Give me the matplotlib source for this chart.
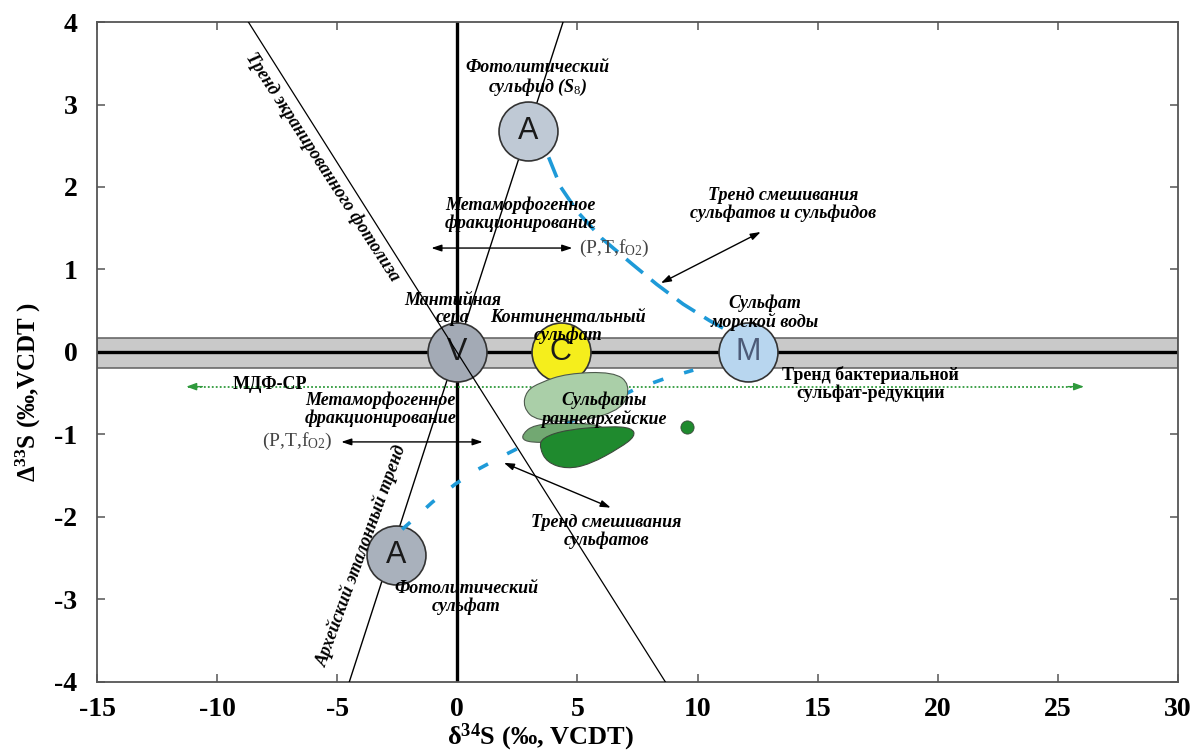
import matplotlib
matplotlib.use("Agg")
import matplotlib.pyplot as plt
from matplotlib.path import Path
from matplotlib.patches import PathPatch

plt.rcParams['font.family'] = ['Liberation Serif', 'DejaVu Serif']
plt.rcParams['mathtext.fontset'] = 'custom'
plt.rcParams['mathtext.rm'] = 'Liberation Serif'
plt.rcParams['mathtext.bf'] = 'Liberation Serif:bold'
plt.rcParams['mathtext.it'] = 'Liberation Serif:bold:italic'
plt.rcParams['axes.unicode_minus'] = False

# ---- end-member sulfur reservoirs ----
member_labels = ["A", "V", "C", "M", "A"]
member_d34 = [2.95, 0.0, 4.3, 12.1, -2.56]
member_D33 = [2.68, 0.0, 0.0, 0.0, -2.46]
member_colors = ["#bfc9d5", "#a3aab5", "#f5ee1c", "#b8d6ef", "#a9b1bc"]
member_text_colors = ["#1a1a1a", "#1a1a1a", "#1a1a1a", "#4d5b78", "#1a1a1a"]

# ---- reference arrays ----
ara_d34 = [-4.5, 4.4]          # Archean reference array
ara_D33 = [-4.0, 4.0]
screened_d34 = [-8.7, 8.66]    # screened photolysis trend
screened_D33 = [4.0, -4.0]
mdf_band = [-0.19, 0.17]       # mass-dependent fractionation field

# ---- mixing trends ----
mix_sulfide_d34 = [3.8, 4.3, 5.0, 6.0, 7.3, 8.3, 9.4, 10.5, 11.3]
mix_sulfide_D33 = [2.36, 2.0, 1.7, 1.38, 1.06, 0.82, 0.58, 0.38, 0.25]
mix_sulfate_d34 = [-2.3, -1.83, -1.04, -0.08, 0.87, 1.96, 7.4, 8.66, 9.82]
mix_sulfate_D33 = [-2.15, -2.03, -1.82, -1.6, -1.42, -1.25, -0.45, -0.32, -0.22]

# ---- early Archean sulfate fields (outline vertices) ----
field_light_d34 = [3.45, 4.56, 6.50, 7.20, 6.91, 5.24, 3.29, 2.73, 2.87]
field_light_D33 = [-0.37, -0.26, -0.24, -0.39, -0.69, -0.84, -0.84, -0.67, -0.47]
field_mid_d34 = [2.69, 3.18, 4.57, 5.95, 6.37, 5.26, 3.45, 2.76]
field_mid_D33 = [-1.0, -0.88, -0.86, -0.88, -1.0, -1.1, -1.1, -1.08]
field_dark_d34 = [3.52, 4.56, 6.37, 7.27, 7.41, 6.78, 5.53, 4.56, 3.73, 3.42]
field_dark_D33 = [-1.04, -0.94, -0.90, -0.92, -1.02, -1.16, -1.36, -1.42, -1.34, -1.16]
single_d34 = [9.57]
single_D33 = [-0.91]

fig = plt.figure(figsize=(11.92, 7.51), dpi=100)
ax = fig.add_axes([0.0814, 0.0919, 0.9069, 0.8788])
ax.set_xlim(-15, 30)
ax.set_ylim(-4, 4)


def smooth_blob(xs, ys):
    pts = list(zip(xs, ys))
    n = len(pts)
    mids = [((pts[i][0] + pts[(i + 1) % n][0]) / 2, (pts[i][1] + pts[(i + 1) % n][1]) / 2)
            for i in range(n)]
    verts = [mids[-1]]
    codes = [Path.MOVETO]
    for i in range(n):
        verts += [pts[i], mids[i]]
        codes += [Path.CURVE3, Path.CURVE3]
    return Path(verts, codes)


# MDF band and axes cross
ax.axhspan(mdf_band[0], mdf_band[1], facecolor="#c9c9c9", edgecolor="#5e5e5e", lw=1.1, zorder=1)
ax.axhline(0, color="black", lw=2.4, zorder=2)
ax.axvline(0, color="black", lw=2.4, zorder=2)

# reference arrays
ax.plot(ara_d34, ara_D33, color="black", lw=1.0, zorder=3)
ax.plot(screened_d34, screened_D33, color="black", lw=0.9, zorder=6)

# MDF-SR trend (dotted green with arrowheads)
ax.plot([-11.2, 26.0], [-0.42, -0.42], color="#2f9a3c", lw=1.3, ls=(0, (1, 1.2)), zorder=3)
for x0, x1 in [(-10.5, -11.4), (25.3, 26.2)]:
    ax.annotate("", xy=(x1, -0.42), xytext=(x0, -0.42),
                arrowprops=dict(arrowstyle="-|>,head_length=0.6,head_width=0.22",
                                color="#2f9a3c", lw=1.0), zorder=3)

# mixing curves
ax.plot(mix_sulfide_d34, mix_sulfide_D33, color="#1e9ad8", lw=2.6,
        dashes=(6, 3), zorder=4)
ax.plot(mix_sulfate_d34, mix_sulfate_D33, color="#1e9ad8", lw=2.6,
        dashes=(3, 6), zorder=7)

# early Archean sulfate fields
ax.add_patch(PathPatch(smooth_blob(field_mid_d34, field_mid_D33), facecolor="#72a872",
                       edgecolor="#4d5a4d", lw=0.8, zorder=8))
ax.add_patch(PathPatch(smooth_blob(field_light_d34, field_light_D33), facecolor="#aacfa8",
                       edgecolor="#4d5a4d", lw=0.8, zorder=9))
ax.add_patch(PathPatch(smooth_blob(field_dark_d34, field_dark_D33), facecolor="#1f8a2e",
                       edgecolor="#3b4a3b", lw=0.8, zorder=10))
ax.scatter(single_d34, single_D33, s=90, color="#1f8a2e", edgecolor="#3b4a3b",
           lw=0.6, zorder=10)

# end-member circles
for lab, x, y, fc, tc in zip(member_labels, member_d34, member_D33,
                             member_colors, member_text_colors):
    ax.scatter([x], [y], s=1800, color=fc, edgecolor="#333333", lw=1.2, zorder=5)
    ax.text(x, y, lab, ha="center", va="center", fontsize=22, color=tc,
            family="Liberation Sans", zorder=5.5)

# metamorphic fractionation arrows
arrow_kw = dict(arrowstyle="<|-|>,head_length=0.6,head_width=0.2", color="black", lw=1.0)
ax.annotate("", xy=(-1.2, 1.26), xytext=(4.9, 1.26), arrowprops=arrow_kw, zorder=6)
ax.annotate("", xy=(-4.95, -1.09), xytext=(1.17, -1.09), arrowprops=arrow_kw, zorder=6)
# pointers to mixing trends
ax.annotate("", xy=(8.37, 0.82), xytext=(12.73, 1.47), arrowprops=arrow_kw, zorder=6)
ax.annotate("", xy=(1.83, -1.33), xytext=(6.49, -1.90), arrowprops=arrow_kw, zorder=6)

lab_kw = dict(ha="center", va="center", fontsize=13, fontweight="bold",
              fontstyle="italic", linespacing=1.05, zorder=11)
ax.text(3.33, 3.31, "Фотолитический\nсульфид (S$_{\\mathit{8}}$)", **lab_kw)
ax.text(2.62, 1.67, "Метаморфогенное\nфракционирование", **lab_kw)
ax.text(13.57, 1.79, "Тренд смешивания\nсульфатов и сульфидов", **lab_kw)
ax.text(-0.2, 0.52, "Мантийная\nсера", **lab_kw)
ax.text(4.6, 0.31, "Континентальный\nсульфат", **lab_kw)
ax.text(12.78, 0.48, "Сульфат\nморской воды", **lab_kw)
ax.text(-3.2, -0.69, "Метаморфогенное\nфракционирование", **lab_kw)
ax.text(6.1, -0.70, "Сульфаты\nраннеархейские", **lab_kw)
ax.text(6.2, -2.18, "Тренд смешивания\nсульфатов", **lab_kw)
ax.text(0.37, -2.98, "Фотолитический\nсульфат", **lab_kw)
ax.text(-5.6, 2.24, "Тренд экранированного фотолиза", rotation=-57,
        rotation_mode="anchor", **lab_kw)
ax.text(-4.0, -2.47, "Архейский эталонный тренд", rotation=70,
        rotation_mode="anchor", **lab_kw)

plain_kw = dict(ha="center", va="center", fontsize=13, fontweight="bold",
                linespacing=1.0, zorder=11)
ax.text(-7.8, -0.40, "МДФ-СР", **plain_kw)
ax.text(17.2, -0.39, "Тренд бактериальной\nсульфат-редукции", **plain_kw)

ax.text(5.05, 1.26, "(P,T,f$_{\\mathrm{O2}}$)", ha="left", va="center",
        fontsize=14, color="#444444", zorder=11)
ax.text(-5.2, -1.09, "(P,T,f$_{\\mathrm{O2}}$)", ha="right", va="center",
        fontsize=14, color="#444444", zorder=11)

# axes styling
ax.set_xticks(range(-15, 31, 5))
ax.set_yticks(range(-4, 5, 1))
ax.tick_params(direction="in", length=6, width=1.1, color="#555555",
               top=True, right=True, labelsize=20, pad=11)
ax.tick_params(axis="y", pad=14)
for lab in ax.get_xticklabels() + ax.get_yticklabels():
    lab.set_fontweight("bold")
for sp in ax.spines.values():
    sp.set_color("#555555")
    sp.set_linewidth(1.3)

ax.set_xlabel("δ$^{\\mathbf{34}}$S (‰, VCDT)", fontsize=19, fontweight="bold")
ax.set_ylabel("Δ$^{\\mathbf{33}}$S (‰,VCDT )", fontsize=18, fontweight="bold")
ax.xaxis.set_label_coords(0.41, -0.06)
ax.yaxis.set_label_coords(-0.05, 0.44)

fig.savefig("out.png", dpi=100)
